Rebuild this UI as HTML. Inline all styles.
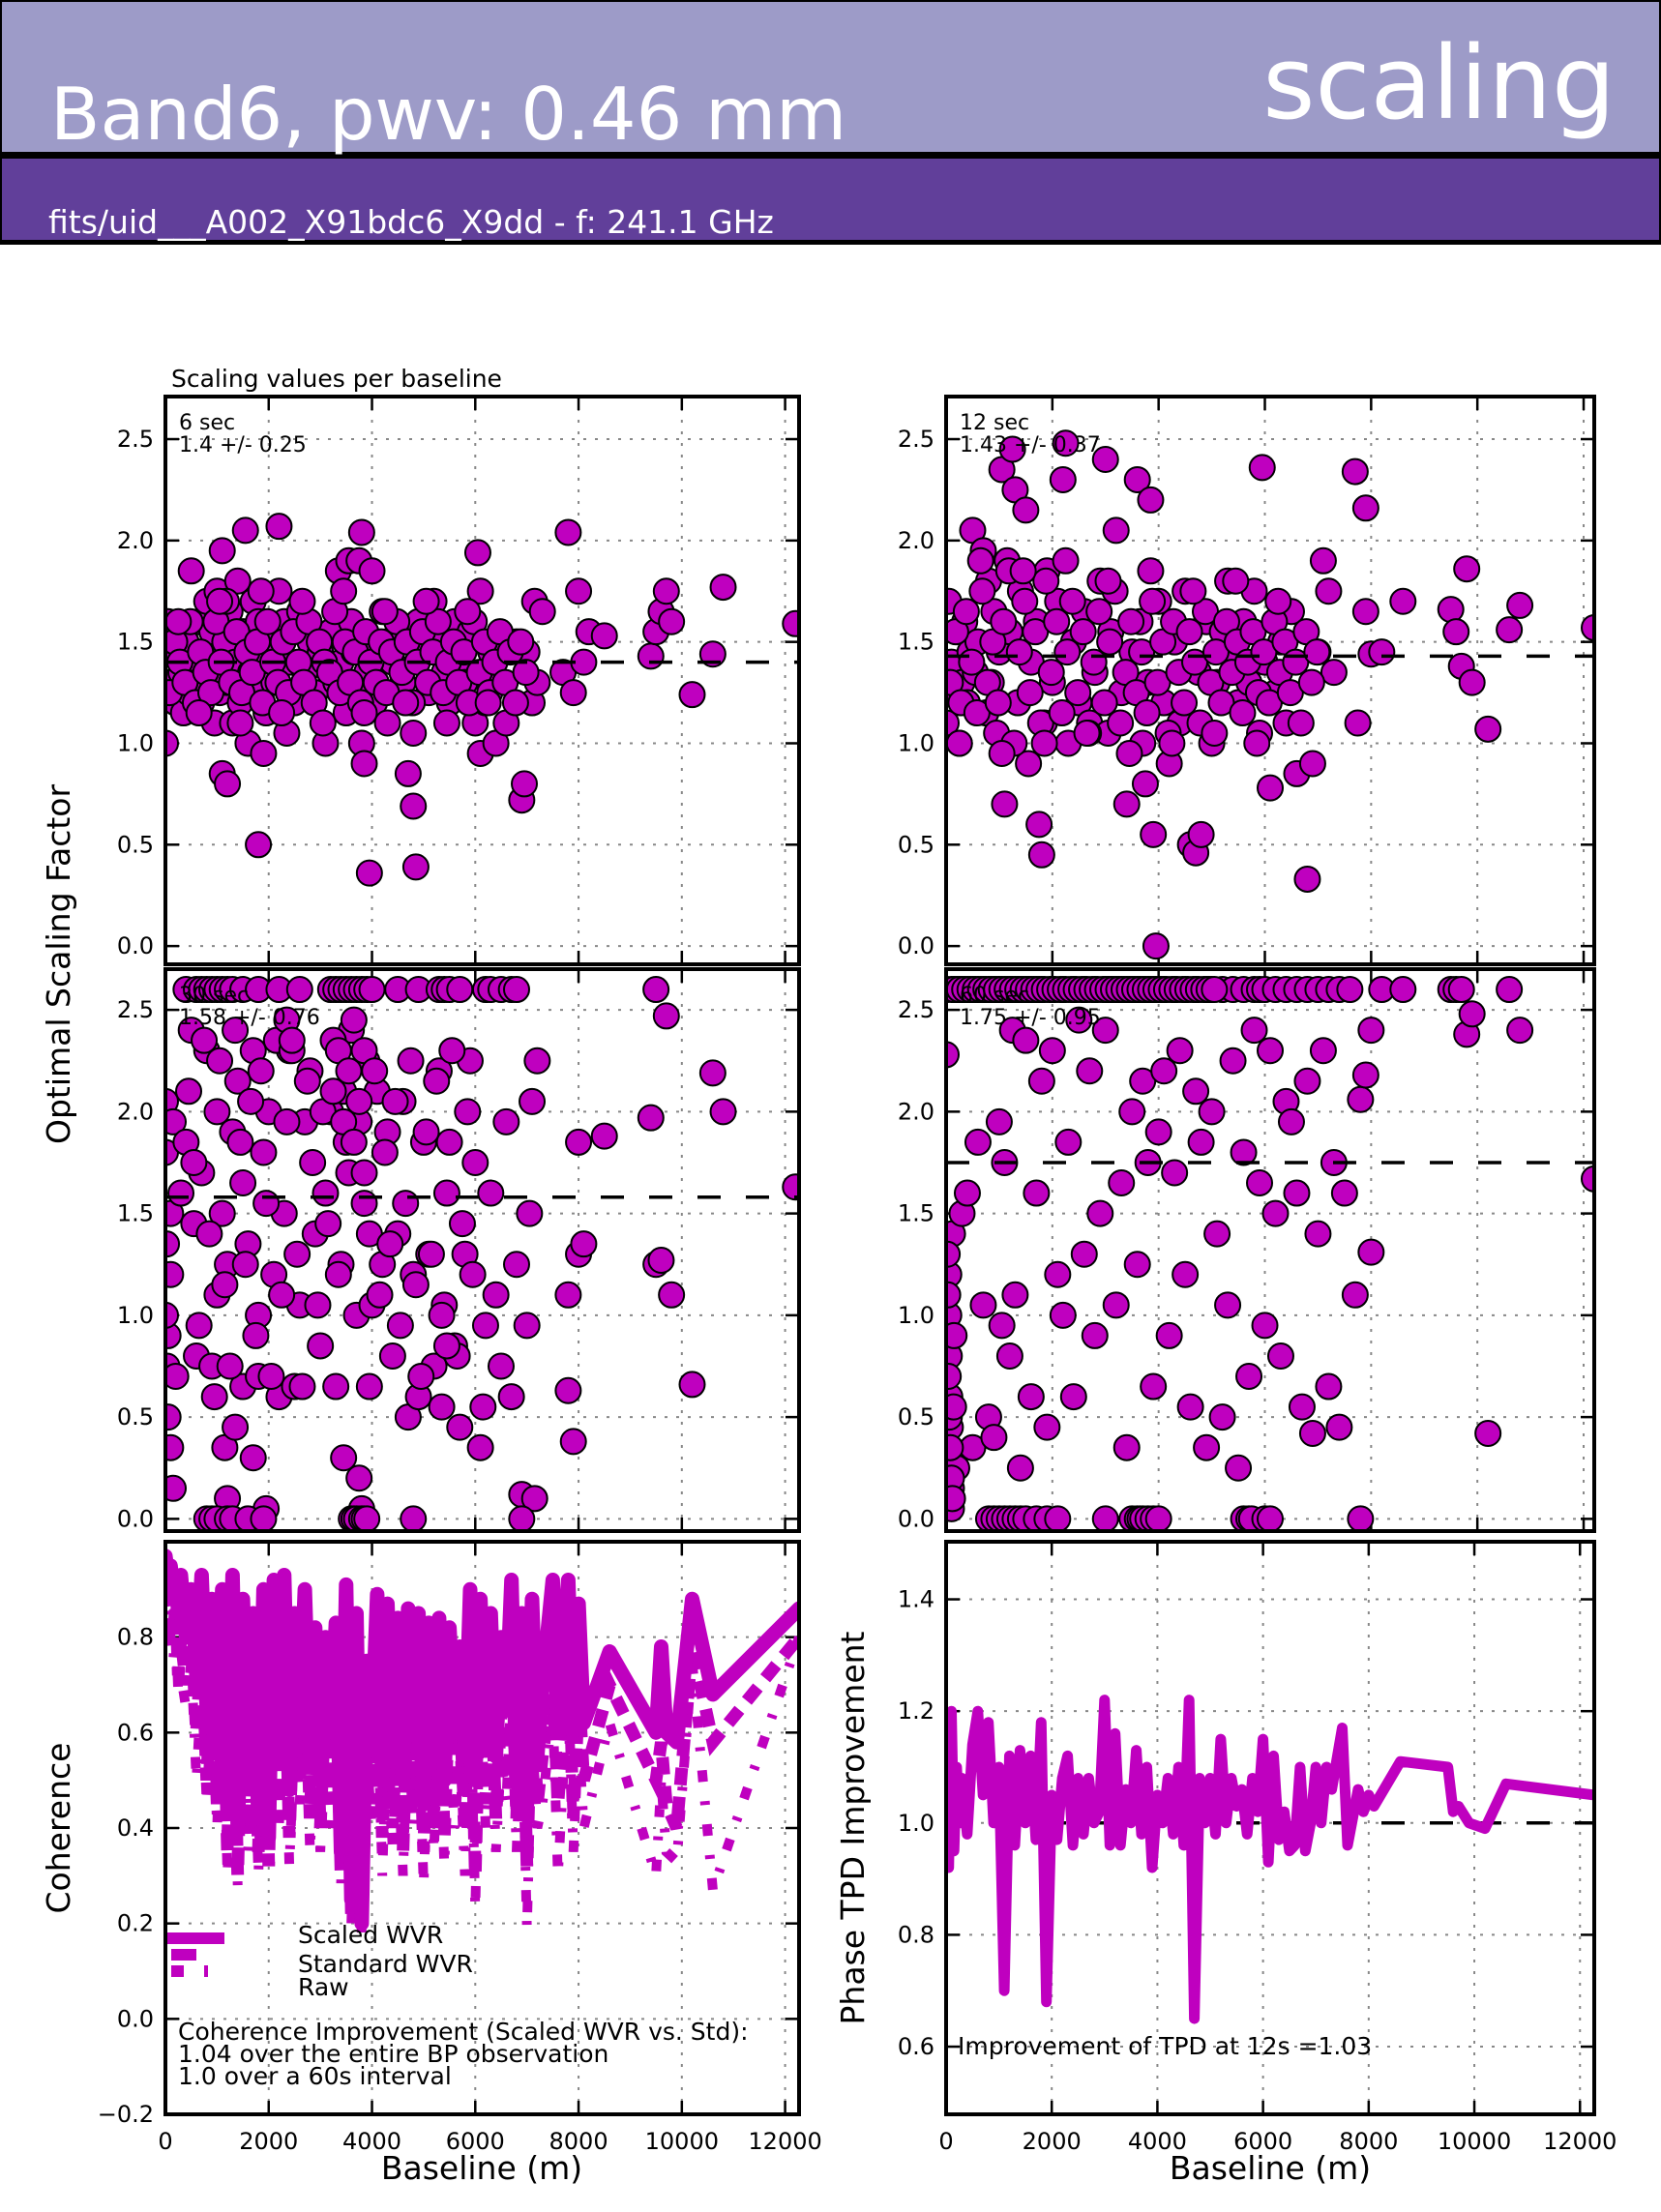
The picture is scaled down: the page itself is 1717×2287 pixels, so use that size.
<!DOCTYPE html>
<html><head><meta charset="utf-8"><style>
html,body{margin:0;padding:0;background:#fff}
svg{display:block}
text{font-family:"DejaVu Sans","Liberation Sans",sans-serif}
</style></head><body>
<svg id="fig" width="1717" height="2287" viewBox="0 0 1717 2287" xmlns="http://www.w3.org/2000/svg">
<rect x="0" y="0" width="1717" height="2287" fill="#fff"/>
<g>
<rect x="1" y="1" width="1715" height="157" fill="#9d9bc8" stroke="#000" stroke-width="2"/>
<rect x="0" y="158" width="1717" height="5" fill="#000"/>
<rect x="1" y="163" width="1715" height="86" fill="#613f9a" stroke="#000" stroke-width="2"/>
<rect x="0" y="249" width="1717" height="4" fill="#000"/>
<text x="52" y="144" font-size="75" fill="#fff">Band6, pwv: 0.46 mm</text>
<text x="1670" y="122" font-size="104" fill="#fff" text-anchor="end">scaling</text>
<text x="50" y="241" font-size="33" fill="#fff">fits/uid___A002_X91bdc6_X9dd - f: 241.1 GHz</text>
</g>
<text x="177" y="400" font-size="25">Scaling values per baseline</text>
<g id="plots"></g>
</svg>
<script>
// ---------- data ----------
const s6Base = [0,50,100,150,200,250,300,350,400,450,500,550,600,650,700,750,800,850,900,950,1000,1050,1100,1100,1150,1200,1200,1250,1300,1350,1400,1450,1500,1550,1600,1650,1700,1750,1800,1800,1850,1900,1950,2000,2100,2200,2200,2300,2350,2400,2500,2600,2700,2800,2900,3000,3100,3200,3300,3350,3400,3500,3550,3600,3650,3700,3750,3800,3800,3850,3900,3950,4000,4050,4100,4200,4300,4400,4500,4600,4700,4800,4800,4850,4900,5000,5100,5200,5300,5400,5500,5600,5700,5800,5900,6000,6050,6100,6100,6200,6300,6400,6500,6600,6800,6900,6950,7000,7100,7150,7200,7300,7700,7800,7900,8000,8100,8200,8500,9400,9500,9600,9700,9800,10200,10600,10800,12200,
 80,180,280,380,480,580,680,780,880,980,1080,1180,1280,1380,1480,1580,1680,1780,1880,1980,2080,2180,2280,2380,2480,2580,2680,2780,2880,2980,3080,3180,3280,3380,3480,3580,3680,3780,3880,3980,4080,4180,4280,4380,4480,4580,4680,4780,4880,4980,5080,5180,5280,5380,5480,5580,5680,5780,5880,5980,6080,6180,6280,6380,6480,6580,6680,6780,6880,6980,250,650,1050,1450,1850,2250,2650,3050,3450,3850,4250,4650,5050,5450,5850,6250];
const s6Vals = [1.0,1.6,1.3,1.45,1.2,1.55,1.35,1.15,1.5,1.25,1.85,1.4,1.3,1.6,1.2,1.45,1.7,1.35,1.55,1.1,1.75,1.25,1.95,0.85,1.5,1.3,0.8,1.65,1.1,1.4,1.8,1.2,1.55,2.05,1.0,1.35,1.7,1.25,0.5,1.6,1.45,0.95,1.15,1.5,1.3,2.07,1.75,1.6,1.05,1.4,1.2,1.65,1.35,1.5,1.25,1.45,1.0,1.55,1.3,1.85,1.4,1.15,1.9,1.6,1.45,1.25,1.9,2.04,1.0,0.9,1.35,0.36,1.85,1.2,1.5,1.65,1.1,1.4,1.55,1.3,0.85,0.69,1.05,0.39,1.6,1.45,1.25,1.7,1.5,1.35,1.2,1.6,1.4,1.3,1.55,1.1,1.94,0.95,1.75,1.2,1.45,1.0,1.3,1.1,1.5,0.72,0.8,1.45,1.2,1.7,1.3,1.65,1.35,2.04,1.25,1.75,1.4,1.55,1.53,1.43,1.55,1.65,1.75,1.6,1.24,1.44,1.77,1.59,
 1.25,1.5,1.4,1.3,1.6,1.2,1.45,1.35,1.25,1.6,1.4,1.7,1.3,1.55,1.25,1.45,1.35,1.5,1.2,1.6,1.4,1.3,1.5,1.25,1.55,1.4,1.3,1.6,1.2,1.5,1.4,1.35,1.65,1.25,1.5,1.3,1.45,1.2,1.55,1.4,1.3,1.5,1.25,1.45,1.6,1.35,1.5,1.2,1.4,1.55,1.3,1.45,1.6,1.25,1.4,1.5,1.3,1.45,1.2,1.6,1.35,1.5,1.25,1.4,1.55,1.3,1.45,1.2,1.5,1.35,1.6,1.15,1.7,1.1,1.75,1.15,1.7,1.1,1.75,1.15,1.65,1.2,1.7,1.1,1.65,1.2];
const s12Base = [0,50,100,150,200,250,300,350,400,450,500,550,600,700,750,800,850,900,950,1000,1050,1100,1150,1200,1250,1300,1350,1400,1500,1550,1600,1700,1750,1800,1850,1900,2000,2100,2200,2250,2300,2400,2500,2600,2700,2800,2900,3000,3050,3100,3200,3300,3400,3500,3600,3650,3700,3750,3800,3850,3900,3950,4000,4100,4200,4300,4400,4500,4600,4700,4750,4800,4900,5000,5100,5200,5300,5400,5500,5600,5700,5800,5900,5950,6000,6100,6200,6300,6400,6500,6600,6800,6900,7000,7100,7200,7300,7700,7750,7900,7900,8000,8200,8600,9500,9600,9700,9800,9900,10200,10600,10800,12200,
 80,180,280,380,480,580,680,780,880,980,1080,1180,1280,1380,1480,1580,1680,1780,1880,1980,2080,2180,2280,2380,2480,2580,2680,2780,2880,2980,3080,3180,3280,3380,3480,3580,3680,3780,3880,3980,4080,4180,4280,4380,4480,4580,4680,4780,4880,4980,5080,5180,5280,5380,5480,5580,5680,5780,5880,5980,6080,6180,6280,6380,6480,6580,6680,6780,6880,6980,250,650,1050,1450,1850,2250,2650,3050,3450,3850,4250,4650,5050,5450,5850,6250];
const s12Vals = [1.1,1.7,1.4,1.25,1.55,1.0,1.3,1.6,1.2,1.45,2.05,1.35,1.5,1.95,1.15,1.8,1.3,1.65,1.05,1.45,2.35,0.7,1.9,1.55,2.45,2.25,1.2,1.75,2.15,0.9,1.4,1.6,0.6,0.45,1.1,1.85,1.3,1.7,2.3,2.48,1.0,1.5,1.2,1.65,1.1,1.35,1.8,2.4,1.05,1.55,2.05,1.25,0.7,1.45,2.3,1.6,1.0,0.8,1.3,2.2,0.55,0.0,1.7,1.2,0.9,1.5,1.1,1.75,0.5,0.46,1.35,0.55,1.6,1.0,1.3,1.55,1.8,1.45,1.2,1.6,1.3,1.75,1.05,2.36,1.4,0.78,1.25,1.5,1.1,1.65,0.85,0.33,0.9,1.45,1.9,1.75,1.35,2.34,1.1,2.16,1.65,1.44,1.45,1.7,1.66,1.55,1.38,1.86,1.3,1.07,1.56,1.68,1.57,
 1.3,1.55,1.2,1.65,1.4,1.15,1.75,1.3,1.5,1.2,1.6,1.85,1.0,1.45,1.7,1.25,1.55,1.1,1.8,1.35,1.6,1.15,1.45,1.7,1.25,1.55,1.05,1.4,1.65,1.2,1.5,1.75,1.1,1.35,1.6,1.25,1.45,1.15,1.7,1.3,1.5,1.05,1.6,1.35,1.2,1.55,1.4,1.1,1.65,1.3,1.45,1.2,1.6,1.35,1.5,1.15,1.4,1.55,1.25,1.45,1.2,1.6,1.35,1.5,1.25,1.4,1.1,1.55,1.3,1.45,1.0,1.9,0.95,1.85,1.0,1.9,1.05,1.8,0.95,1.85,1.0,1.75,1.05,1.8,1.0,1.7];
const s30Base = [400,600,700,800,900,1000,1100,1200,1300,1500,1800,2200,2600,3200,3300,3400,3500,3600,3700,3800,3900,4000,4500,4900,5300,5400,5500,5700,6200,6300,6500,6700,6800,9500,0,0,20,50,0,30,50,100,150,100,150,100,200,300,400,500,550,600,700,800,900,1000,1000,1100,1150,1200,1200,1300,1350,1400,1500,1500,1600,1700,1700,1800,1800,1900,1950,2000,2100,2200,2300,2400,2500,2600,2700,2800,2900,3000,3100,3200,3300,3400,3450,3500,3600,3700,3750,3800,3850,3900,3950,4000,4100,4200,4300,4400,4500,4600,4700,4800,4900,5000,5100,5200,5300,5400,5500,5600,5700,5800,5900,6000,6100,6150,6200,6300,6400,6500,6600,6700,6800,6900,7000,7050,7100,7150,7200,7800,7800,7900,8000,8000,8100,8500,9400,9500,9600,9700,9800,10200,10600,10800,12200,800,900,1000,1200,1300,1600,1900,3600,3650,3700,3800,3850,3900,4800,6900,
 450,550,650,750,850,950,1050,1150,1250,1350,1450,1550,1650,1750,1850,1950,2050,2150,2250,2350,2450,2550,2650,2750,2850,2950,3050,3150,3250,3350,3450,3550,3650,3750,3850,3950,4050,4150,4250,4350,4450,4550,4650,4750,4850,4950,5050,5150,5250,5350,5450,5550,5650,5750,5850,5950,3250,3350,3450,3550,3650,3750,3850,2350,2450,5350,5450];
const s30Vals = [2.6,2.6,2.6,2.6,2.6,2.6,2.6,2.6,2.6,2.6,2.6,2.6,2.6,2.6,2.6,2.6,2.6,2.6,2.6,2.6,2.6,2.6,2.6,2.6,2.6,2.6,2.6,2.6,2.6,2.6,2.6,2.6,2.6,2.6,2.05,1.8,1.35,0.9,1.0,0.75,0.5,0.35,0.15,1.5,1.95,1.2,0.7,1.6,1.85,2.4,1.45,0.8,1.7,2.3,0.75,1.1,2.0,1.5,0.35,1.25,0.1,1.9,0.45,2.15,1.65,0.65,1.35,0.3,2.3,0.7,1.0,1.8,0.05,2.0,1.2,0.6,1.5,2.3,0.65,1.05,1.95,2.2,1.4,0.85,1.6,2.0,0.65,1.25,0.3,1.85,2.4,1.0,0.2,0.05,1.55,2.25,0.65,1.05,2.1,1.25,1.9,0.8,1.4,2.05,0.5,1.2,0.6,1.85,1.3,0.75,2.2,1.05,1.85,0.85,0.45,1.3,2.25,1.75,0.35,0.55,0.95,1.6,1.1,0.75,1.95,0.6,1.25,0.12,0.95,1.5,2.05,0.1,2.25,0.63,1.1,0.38,1.3,1.85,1.35,1.88,1.97,1.25,1.27,2.47,1.1,0.66,2.19,2.0,1.63,0,0,0,0,0,0,0,0,0,0,0,0,0,0,0,
 2.1,1.75,0.95,2.35,1.4,0.6,2.25,1.15,0.75,2.4,1.85,1.25,2.05,0.9,2.2,1.55,0.7,2.35,1.1,1.95,2.3,1.3,0.65,2.15,1.75,1.05,2.0,1.45,2.35,1.2,2.1,1.7,2.45,1.95,2.3,1.4,2.2,1.1,1.8,1.35,2.05,0.95,1.55,2.25,1.15,0.7,1.9,1.3,2.15,1.0,1.6,2.3,0.8,1.45,2.0,1.2,2.1,2.3,1.95,2.2,1.85,2.05,1.7,2.45,2.35,0.55,0.85];
const s60Base = [0,100,200,300,400,500,600,700,800,900,1000,1100,1200,1300,1400,1500,1600,1700,1800,2000,2200,2400,2600,2800,3000,3100,3200,3300,3400,3500,3600,3700,3800,3900,4000,4100,4300,4500,4700,4900,5000,5200,5400,5600,5800,5900,6000,6200,6400,6600,6800,7000,7200,7400,7600,8200,8600,9500,9600,9700,10600,0,50,50,60,70,80,90,100,100,120,150,200,300,400,500,600,700,800,900,1000,1050,1100,1200,1250,1300,1400,1500,1600,1700,1800,1900,2000,2100,2200,2300,2400,2500,2600,2700,2800,2900,3000,3200,3300,3400,3500,3600,3700,3800,3900,4000,4100,4200,4300,4400,4500,4600,4700,4800,4900,5000,5100,5200,5300,5400,5500,5600,5700,5800,5900,6000,6100,6200,6300,6400,6500,6600,6700,6800,6900,7000,7100,7200,7300,7400,7500,7700,7800,7900,8000,8000,9800,9900,10200,10800,12200,800,900,1000,1100,1200,1300,1400,1500,1700,1900,2100,3000,3500,3600,3650,3700,3800,3900,4000,5600,5700,5750,6000,6100,7800,
 150,250,350,450,550,650,750,850,950,1050,1150,1250,1350,1450,1550,1650,1750,1850,1950,2050,2150,2250,2350,2450,2550,2650,2750,2850,2950,3050,3150,3250,3350,3450,3550,3650,3750,3850,3950,4050,4150,4250,4350,4450,4550,4650,4750,4850,4950,5050,20,30,40,60,80,100,120,140];
const s60Vals = [2.6,2.6,2.6,2.6,2.6,2.6,2.6,2.6,2.6,2.6,2.6,2.6,2.6,2.6,2.6,2.6,2.6,2.6,2.6,2.6,2.6,2.6,2.6,2.6,2.6,2.6,2.6,2.6,2.6,2.6,2.6,2.6,2.6,2.6,2.6,2.6,2.6,2.6,2.6,2.6,2.6,2.6,2.6,2.6,2.6,2.6,2.6,2.6,2.6,2.6,2.6,2.6,2.6,2.6,2.6,2.6,2.6,2.6,2.6,2.6,2.6,2.28,1.2,1.0,0.8,0.6,0.45,0.3,0.15,0.05,1.4,0.9,0.25,1.5,1.6,0.35,1.85,1.05,0.5,0.4,1.95,0.95,1.75,0.8,2.4,1.1,0.25,2.35,0.6,1.6,2.15,0.45,2.3,1.2,1.0,1.85,0.6,2.45,1.3,2.2,0.9,1.5,2.4,1.05,1.65,0.35,2.0,1.25,2.15,1.75,0.65,1.9,2.2,0.9,1.7,2.3,1.2,0.55,2.1,1.85,0.35,2.0,1.4,0.5,1.05,2.25,0.25,1.8,0.7,2.4,1.65,0.95,2.3,1.5,0.8,2.05,1.95,1.6,0.55,2.15,0.42,1.4,2.3,0.65,1.75,0.45,1.6,1.1,2.06,2.18,1.31,2.4,2.38,2.48,0.42,2.4,1.67,0,0,0,0,0,0,0,0,0,0,0,0,0,0,0,0,0,0,0,0,0,0,0,0,0,
 2.6,2.6,2.6,2.6,2.6,2.6,2.6,2.6,2.6,2.6,2.6,2.6,2.6,2.6,2.6,2.6,2.6,2.6,2.6,2.6,2.6,2.6,2.6,2.6,2.6,2.6,2.6,2.6,2.6,2.6,2.6,2.6,2.6,2.6,2.6,2.6,2.6,2.6,2.6,2.6,2.6,2.6,2.6,2.6,2.6,2.6,2.6,2.6,2.6,2.6,1.3,1.1,0.7,0.5,0.35,0.2,0.1,0.55];
const cohBase = [0,50,100,150,200,250,300,400,500,600,700,800,900,1000,1100,1200,1300,1400,1500,1600,1700,1800,1900,2000,2100,2200,2300,2400,2500,2600,2700,2800,2900,3000,3100,3200,3300,3400,3500,3600,3700,3800,3900,4000,4100,4200,4300,4400,4500,4600,4700,4800,4900,5000,5100,5200,5300,5400,5500,5600,5700,5800,5900,6000,6100,6200,6300,6400,6500,6600,6700,6800,6900,7000,7100,7200,7300,7500,7600,7800,7900,8000,8100,8600,9500,9600,9700,9900,10200,10600,12270];
const cohScaled = [0.97,0.93,0.95,0.9,0.92,0.85,0.93,0.8,0.9,0.72,0.93,0.65,0.88,0.6,0.9,0.45,0.93,0.4,0.88,0.5,0.85,0.42,0.9,0.38,0.92,0.55,0.93,0.48,0.85,0.62,0.9,0.55,0.82,0.5,0.8,0.6,0.83,0.35,0.91,0.25,0.85,0.2,0.75,0.6,0.89,0.5,0.87,0.55,0.84,0.5,0.86,0.6,0.85,0.45,0.83,0.55,0.84,0.5,0.82,0.6,0.78,0.55,0.9,0.5,0.88,0.6,0.85,0.55,0.8,0.65,0.92,0.5,0.85,0.45,0.88,0.55,0.7,0.92,0.6,0.92,0.6,0.87,0.62,0.77,0.6,0.78,0.6,0.58,0.88,0.68,0.86];
const cohStd = [0.9,0.88,0.85,0.8,0.87,0.72,0.8,0.7,0.82,0.6,0.78,0.5,0.75,0.45,0.8,0.35,0.78,0.3,0.75,0.4,0.72,0.35,0.8,0.32,0.85,0.45,0.8,0.38,0.7,0.5,0.78,0.42,0.7,0.4,0.68,0.45,0.72,0.3,0.8,0.22,0.7,0.2,0.62,0.45,0.75,0.38,0.72,0.4,0.7,0.35,0.72,0.45,0.7,0.35,0.7,0.4,0.72,0.38,0.7,0.45,0.65,0.4,0.78,0.3,0.75,0.45,0.72,0.42,0.65,0.5,0.8,0.42,0.75,0.32,0.7,0.45,0.55,0.72,0.45,0.75,0.42,0.7,0.5,0.7,0.5,0.58,0.45,0.4,0.78,0.58,0.8];
const cohRaw = [0.92,0.85,0.8,0.75,0.82,0.68,0.72,0.65,0.75,0.5,0.7,0.45,0.68,0.4,0.72,0.3,0.7,0.28,0.65,0.35,0.66,0.3,0.72,0.33,0.78,0.4,0.72,0.32,0.6,0.45,0.7,0.35,0.62,0.35,0.6,0.4,0.65,0.28,0.72,0.2,0.6,0.18,0.55,0.4,0.68,0.3,0.65,0.35,0.6,0.3,0.65,0.4,0.62,0.28,0.62,0.35,0.65,0.32,0.6,0.4,0.55,0.3,0.7,0.23,0.68,0.4,0.65,0.35,0.55,0.45,0.7,0.35,0.65,0.19,0.6,0.4,0.45,0.65,0.3,0.7,0.35,0.6,0.4,0.62,0.3,0.5,0.35,0.33,0.75,0.27,0.8];
const tpdVals = [1.05,0.92,1.2,0.95,1.1,1.0,1.08,0.98,1.14,1.2,1.05,1.18,1.0,1.1,0.7,1.12,0.96,1.13,1.0,1.12,0.97,1.18,0.68,1.05,0.97,1.08,1.12,0.96,1.08,0.98,1.08,1.0,1.02,1.22,0.96,1.16,0.96,1.06,1.0,1.13,0.98,1.1,0.92,1.05,1.0,1.08,0.98,1.1,0.96,1.22,0.65,1.08,1.0,1.08,0.98,1.15,1.0,1.08,1.03,1.06,0.98,1.08,1.02,1.15,0.93,1.12,0.97,1.02,0.95,0.96,1.1,0.95,1.0,1.1,1.0,1.1,1.06,1.17,0.96,1.06,1.02,1.05,1.03,1.11,1.1,1.02,1.03,1.0,0.99,1.07,1.05];
const scatterMeans = [1.4, 1.43, 1.58, 1.75];
const scatterLabels = ["6 sec", "12 sec", "30 sec", "60 sec"];
const scatterStats = ["1.4 +/- 0.25", "1.43 +/- 0.37", "1.58 +/- 0.76", "1.75 +/- 0.95"];
const xTicks = [0,2000,4000,6000,8000,10000,12000];
const scaleTicks = [0,0.5,1.0,1.5,2.0,2.5];
const cohTicks = [-0.2,0,0.2,0.4,0.6,0.8];
const tpdTicks = [0.6,0.8,1.0,1.2,1.4];
const tpdMean = 1.0;

// ---------- drawing ----------
const NS = "http://www.w3.org/2000/svg";
const root = document.getElementById('plots');
function mk(tag, attrs, parent){ const e=document.createElementNS(NS,tag); for(const k in attrs) e.setAttribute(k,attrs[k]); (parent||root).appendChild(e); return e; }
function panel(name, L, T, W, H, xmax, ymin, ymax){
  const g = mk('g',{});
  
  
  return {g, L, T, W, H, sx:v=>L+v/xmax*W, sy:v=>T+H-(v-ymin)/(ymax-ymin)*H};
}
function grid(p, yt, showX, fmt){
  const gg = mk('g',{},p.g);
  
  
  xTicks.forEach(v=>{ const x=p.sx(v); mk('line',{x1:x,x2:x,y1:p.T,y2:p.T+p.H,stroke:'#888','stroke-width':2,'stroke-dasharray':'3,9'},gg);
    mk('line',{x1:x,x2:x,y1:p.T,y2:p.T+14,stroke:'#000','stroke-width':2.5},gg);
    mk('line',{x1:x,x2:x,y1:p.T+p.H,y2:p.T+p.H-14,stroke:'#000','stroke-width':2.5},gg);
    if(showX){ const t=mk('text',{x:x,y:p.T+p.H+36,'font-size':24,'text-anchor':'middle'},gg); t.textContent=v;
        }
  });
  yt.forEach(v=>{ const y=p.sy(v); mk('line',{x1:p.L,x2:p.L+p.W,y1:y,y2:y,stroke:'#888','stroke-width':2,'stroke-dasharray':'3,9'},gg);
    mk('line',{x1:p.L,x2:p.L+14,y1:y,y2:y,stroke:'#000','stroke-width':2.5},gg);
    mk('line',{x1:p.L+p.W,x2:p.L+p.W-14,y1:y,y2:y,stroke:'#000','stroke-width':2.5},gg);
    const t=mk('text',{x:p.L-12,y:y+8,'font-size':24,'text-anchor':'end'},gg); t.textContent=fmt(v);
     
  });
}
function frame(p){ const r=mk('rect',{x:p.L,y:p.T,width:p.W,height:p.H,fill:'none',stroke:'#000','stroke-width':4},p.g);
    }
function clip(p,id){ const c=mk('clipPath',{id:id},p.g); mk('rect',{x:p.L,y:p.T,width:p.W,height:p.H},c); return mk('g',{'clip-path':'url(#'+id+')'},p.g); }
const f1 = v=>v.toFixed(1);
const fneg = v=>(v<0?'\u2212':'')+Math.abs(v).toFixed(1);

const scatterDefs = [
 ['panel-6sec',171,410,655,587,12270,-0.09,2.71,s6Base,s6Vals],
 ['panel-12sec',978,410,670,587,12200,-0.09,2.71,s12Base,s12Vals],
 ['panel-30sec',171,1002,655,581,12270,-0.06,2.70,s30Base,s30Vals],
 ['panel-60sec',978,1002,670,581,12200,-0.06,2.70,s60Base,s60Vals]
];
scatterDefs.forEach((d,i)=>{
  const p = panel(d[0],d[1],d[2],d[3],d[4],d[5],d[6],d[7]);
  grid(p, scaleTicks, false, f1);
  const cg = clip(p,'c'+i);
  d[8].forEach((bx,j)=>{
    const c = mk('circle',{cx:p.sx(bx),cy:p.sy(d[9][j]),r:13,fill:'#bf00bf',stroke:'#000','stroke-width':2},cg);
    
    
  });
  const ml = mk('line',{x1:p.L,x2:p.L+p.W,y1:p.sy(scatterMeans[i]),y2:p.sy(scatterMeans[i]),stroke:'#000','stroke-width':3.5,'stroke-dasharray':'24,26'},cg);
  
  
  const t1 = mk('text',{x:p.L+14,y:p.T+34,'font-size':22},p.g); t1.textContent=scatterLabels[i];
   
  const t2 = mk('text',{x:p.L+14,y:p.T+57,'font-size':22},p.g); t2.textContent=scatterStats[i];
   
  frame(p);
});

// coherence
(function(){
  const p = panel('coherence-panel',171,1594,655,592,12270,-0.2,1.0);
  grid(p, cohTicks, true, fneg);
  const cg = clip(p,'cc');
  const pts = arr => arr.map((v,j)=>p.sx(cohBase[j]).toFixed(1)+','+p.sy(v).toFixed(1)).join(' ');
  const raw = mk('polyline',{points:pts(cohRaw),fill:'none',stroke:'#bf00bf','stroke-width':10,'stroke-dasharray':'12,20,4,20'},cg);
   
  const std = mk('polyline',{points:pts(cohStd),fill:'none',stroke:'#bf00bf','stroke-width':13,'stroke-dasharray':'18,12'},cg);
   
  const sc = mk('polyline',{points:pts(cohScaled),fill:'none',stroke:'#bf00bf','stroke-width':15,'stroke-linejoin':'round','stroke-linecap':'round'},cg);
   
  const lg = mk('g',{},p.g);
   
  mk('rect',{x:173,y:1998,width:59,height:12,fill:'#bf00bf'},lg);
  mk('rect',{x:177,y:2015,width:26,height:12,fill:'#bf00bf'},lg);
  mk('rect',{x:177,y:2032,width:13,height:12,fill:'#bf00bf'},lg);
  mk('rect',{x:211,y:2032,width:4,height:12,fill:'#bf00bf'},lg);
  [['Scaled WVR',2009],['Standard WVR',2039],['Raw',2063]].forEach(a=>{ const t=mk('text',{x:308,y:a[1],'font-size':25},lg); t.textContent=a[0];
      });
  [['Coherence Improvement (Scaled WVR vs. Std):',2109],['1.04 over the entire BP observation',2132],['1.0 over a 60s interval',2155]].forEach(a=>{ const t=mk('text',{x:184,y:a[1],'font-size':25},p.g); t.textContent=a[0];
      });
  frame(p);
})();

// tpd
(function(){
  const p = panel('tpd-panel',978,1594,670,592,12270,0.479,1.503);
  grid(p, tpdTicks, true, f1);
  const cg = clip(p,'ct');
  const ml = mk('line',{x1:p.L,x2:p.L+p.W,y1:p.sy(tpdMean),y2:p.sy(tpdMean),stroke:'#000','stroke-width':3.5,'stroke-dasharray':'24,26'},cg);
   
  const pl = mk('polyline',{points:tpdVals.map((v,j)=>p.sx(cohBase[j]).toFixed(1)+','+p.sy(v).toFixed(1)).join(' '),fill:'none',stroke:'#bf00bf','stroke-width':11,'stroke-linejoin':'round','stroke-linecap':'round'},cg);
   
  const t=mk('text',{x:990,y:2124,'font-size':25},p.g); t.textContent='Improvement of TPD at 12s =1.03';
   
  frame(p);
})();

// axis titles
[['Optimal Scaling Factor',72,997,'y-axis-title'],['Coherence',72,1890,'coherence-axis-title'],['Phase TPD Improvement',893,1890,'tpd-axis-title']].forEach(a=>{
  const t=mk('text',{x:a[1],y:a[2],'font-size':33,'text-anchor':'middle',transform:'rotate(-90 '+a[1]+' '+a[2]+')'});
  t.textContent=a[0];
  
  
});
[[498,'x-axis-title-left'],[1313,'x-axis-title-right']].forEach(a=>{
  const t=mk('text',{x:a[0],y:2253,'font-size':33,'text-anchor':'middle'});
  t.textContent='Baseline (m)';
  
  
});
</script>
</body></html>
